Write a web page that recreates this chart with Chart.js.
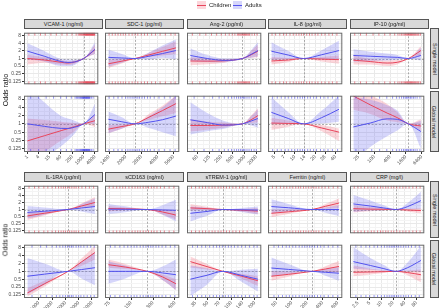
<!DOCTYPE html>
<html><head><meta charset="utf-8">
<script src="https://cdn.jsdelivr.net/npm/chart.js@4.4.1/dist/chart.umd.min.js"></script>
<style>
html,body{margin:0;padding:0;background:#fff}
body{width:440px;height:308px;overflow:hidden;position:relative;font-family:"Liberation Sans",Arial,sans-serif}
canvas{position:absolute}
.strip{position:absolute;background:#d9d9d9;border:1px solid #555;box-sizing:border-box;color:#1a1a1a;font-size:5.5px;display:flex;align-items:center;justify-content:center;white-space:nowrap;overflow:hidden}
.vstrip span{display:block;transform:rotate(90deg);white-space:nowrap}
.ytitle{position:absolute;font-size:7px;color:#111;white-space:nowrap;transform:translate(-50%,-50%) rotate(-90deg)}
.leg{position:absolute;top:1px;font-size:6px;color:#222;display:flex;align-items:center}
.sw{width:9px;height:8px;margin-right:3px;position:relative}
.sw i{position:absolute;left:0;right:0;top:3.5px;height:1px}
</style></head><body>
<script>
// ---------- axis ticks ----------
const OR_ticks = [0.125, 0.25, 0.5, 1, 2, 4, 8];
const VCAM1_ticks = [1, 4, 15, 60, 250, 1000, 4000];
const SDC1_ticks = [1400, 2000, 2800, 4000, 5600];
const ANG2_ticks = [60, 125, 250, 500, 1000, 2000];
const IL8_ticks = [5, 7, 10, 14, 20, 28, 40];
const IP10_ticks = [25, 100, 400, 1600, 6400];
const IL1RA_ticks = [1000, 2000, 4000, 8000, 16000];
const SCD163_ticks = [75, 150, 300, 600];
const STREM1_ticks = [35, 50, 70, 100, 140, 200];
const FERRITIN_ticks = [50, 100, 200, 400, 800];
const CRP_ticks = [2.5, 5, 10, 20, 40, 80];

// ---------- reference (median) values ----------
const VCAM1_ref = 1000, SDC1_ref = 2450, ANG2_ref = 880, IL8_ref = 13.5, IP10_ref = 2000;
const IL1RA_ref = 4600, SCD163_ref = 250, STREM1_ref = 78, FERRITIN_ref = 250, CRP_ref = 24;

// ---------- x sample points and [OR, lower, upper] ----------
const VCAM1_x = [1, 8, 63, 145, 333, 1000, 4000];
const VCAM1_single_children = [[1,.574,1.41],[.871,.683,1.11],[.707,.574,.871],[.66,.555,.785],[.732,.616,.841],[1,1,1],[2.22,1.52,3.48]];
const VCAM1_single_adults = [[1.96,.933,4],[1.23,.758,2],[.758,.5,.966],[.697,.5,.92],[.732,.555,.901],[1,1,1],[2.3,1.52,4.44]];
const VCAM1_global_children = [[.24,.041,1.56],[.369,.095,1.37],[.566,.25,1.2],[.669,.354,1.125],[.796,.536,1.07],[1,1,1],[1.3,.774,2.17]];
const VCAM1_global_adults = [[1,.031,22.6],[.812,.0625,6.06],[.683,.154,1.92],[.678,.25,1.56],[.758,.435,1.3],[1,1,1],[2.17,1,5.43]];

const SDC1_x = [1380, 1845, 2450, 3300, 4415, 5900];
const SDC1_single_children = [[.616,.418,.901],[.785,.637,.953],[1,1,1],[1.385,1.15,1.68],[1.92,1.32,2.83],[2.64,1.52,4.79]];
const SDC1_single_adults = [[1.11,.476,2.22],[1.05,.683,1.52],[1,1,1],[1.23,.901,1.74],[1.57,1.07,3.25],[2.06,.933,5.66]];
const SDC1_global_children = [[.641,.46,.883],[.801,.66,.966],[1,1,1],[1.74,1.37,2.3],[3.03,1.87,4.59],[5.43,2.48,10.6]];
const SDC1_global_adults = [[1.47,.46,2.83],[1.19,.66,1.74],[1,1,1],[1.15,.707,1.87],[1.41,.5,4],[1.92,.354,10.6]];

const ANG2_x = [40, 109, 296, 880, 1470, 2200];
const ANG2_single_children = [[.796,.536,1.11],[.785,.595,1],[.812,.683,.946],[1,1,1],[1.41,1.07,2],[1.95,1.15,3.48]];
const ANG2_single_adults = [[1.32,.796,2.51],[1,.732,1.37],[.841,.707,1],[1,1,1],[1.46,1.07,2.14],[2.06,1.23,4.44]];
const ANG2_global_children = [[.871,.525,1.47],[.871,.616,1.23],[.901,.732,1.11],[1,1,1],[1.41,1.07,2],[2,1.14,3.66]];
const ANG2_global_adults = [[1.4,.406,6.06],[1.11,.536,2.46],[.901,.66,1.27],[1,1,1],[1.27,.871,1.87],[1.56,.717,3.39]];

const IL8_x = [4.5, 8, 13.5, 25, 45];
const IL8_single_children = [[.796,.574,1.15],[.871,.732,1.035],[1,1,1],[.946,.758,1.15],[.901,.616,1.32]];
const IL8_single_adults = [[1.95,.901,4.44],[1.37,.933,2],[1,1,1],[1.41,.966,2.14],[2.06,.953,5.03]];
const IL8_global_children = [[1.07,.595,1.68],[1.035,.785,1.32],[1,1,1],[.707,.536,.901],[.5,.24,.678]];
const IL8_global_adults = [[2.62,1,9.19],[1.57,1,2.64],[1,1,1],[1.68,1.035,3.03],[3.39,1.197,10.6]];

const IP10_x = [16, 70, 310, 754, 2000, 6000];
const IP10_single_children = [[.858,.574,1.32],[.758,.574,.966],[.66,.5,.841],[.707,.574,.871],[1,1,1],[2.06,1.32,3.03]];
const IP10_single_adults = [[1.32,.737,2.33],[1.23,.812,1.87],[1.15,.841,1.57],[1.11,.901,1.37],[1,1,1],[1.32,.835,2.64]];
const IP10_global_children = [[10.3,3.23,45],[4.92,2.3,12.1],[2.46,1.32,5.28],[1.68,1.15,2.64],[1,1,1],[.835,.551,1.47]];
const IP10_global_adults = [[.774,.044,9.19],[1.07,.144,7.46],[1.52,.354,4.76],[1.46,.574,3.03],[1,1,1],[.525,.125,1.29]];

const IL1RA_x = [550, 1330, 4600, 9230, 18700];
const IL1RA_single_children = [[.529,.354,.747],[.688,.555,.841],[1,1,1],[1.41,1.15,1.8],[2,1.34,3.41]];
const IL1RA_single_adults = [[.747,.406,1.41],[.841,.595,1.23],[1,1,1],[1.157,.812,1.74],[1.34,.637,2.99]];
const IL1RA_global_children = [[.148,.109,.222],[.33,.259,.435],[1,1,1],[2.28,1.62,3.14],[5.28,2.83,9.51]];
const IL1RA_global_adults = [[.65,.129,3.25],[.779,.308,2],[1,1,1],[1.17,.536,2.38],[1.38,.29,5.58]];

const SCD163_x = [73, 125, 250, 404, 620];
const SCD163_single_children = [[1.11,.829,1.41],[1.07,.933,1.23],[1,1,1],[.785,.616,.966],[.574,.373,.901]];
const SCD163_single_adults = [[1.03,.637,1.74],[1.02,.758,1.37],[1,1,1],[.959,.595,1.52],[.92,.308,2.6]];
const SCD163_global_children = [[1.8,1.38,2.83],[1.46,1.23,1.93],[1,1,1],[.616,.467,.758],[.332,.193,.5]];
const SCD163_global_adults = [[1,.332,2.46],[1,.536,1.68],[1,1,1],[.871,.467,1.52],[.742,.193,2.83]];

const STREM1_x = [30, 49, 78, 134, 220];
const STREM1_single_children = [[1.17,.901,1.74],[1.09,.946,1.32],[1,1,1],[.933,.812,1.06],[.853,.637,1.17]];
const STREM1_single_adults = [[.688,.308,1.34],[.824,.536,1.19],[1,1,1],[.973,.785,1.15],[.946,.603,1.34]];
const STREM1_global_children = [[2.36,1.45,3.73],[1.52,1.19,1.93],[1,1,1],[.66,.536,.812],[.435,.275,.65]];
const STREM1_global_adults = [[.5,.113,1.66],[.707,.308,1.32],[1,1,1],[.707,.406,1.15],[.5,.17,1.27]];

const FERRITIN_x = [40, 86, 250, 457, 840];
const FERRITIN_single_children = [[.688,.467,1],[.796,.637,1],[1,1,1],[1.37,1.07,1.74],[1.89,1.17,2.99]];
const FERRITIN_single_adults = [[1.34,.688,2.75],[1.19,.812,1.74],[1,1,1],[1,.732,1.23],[1,.529,1.52]];
const FERRITIN_global_children = [[.65,.435,1],[.768,.616,.966],[1,1,1],[1.23,.966,1.57],[1.54,.895,2.48]];
const FERRITIN_global_adults = [[1.34,.65,3.43],[1.19,.785,1.93],[1,1,1],[.92,.683,1.23],[.847,.435,1.45]];

const CRP_x = [1.9, 5.2, 11.6, 24, 47, 105];
const CRP_single_children = [[1.09,.747,1.52],[1.035,.841,1.27],[1.02,.901,1.15],[1,1,1],[.953,.812,1.07],[.901,.688,1.17]];
const CRP_single_adults = [[1.74,.785,4.23],[1.41,.901,2.46],[1.165,.933,1.52],[1,1,1],[1.32,1.035,1.87],[2.41,1.09,5.82]];
const CRP_global_children = [[.92,.65,1.66],[.946,.758,1.27],[.973,.871,1.11],[1,1,1],[.901,.707,1.07],[.742,.379,1.17]];
const CRP_global_adults = [[2.36,1.27,8.34],[1.68,1.15,3.25],[1.27,1.035,1.74],[1,1,1],[1.37,1,2.14],[2.62,.973,9.51]];

// ---------- observations (rug) ----------
const VCAM1_obs_children = [1.2,2.5,5,9,18,35,70,130,240,400,520,600,680,760,840,920,1000,1080,1150,1230,1300,1380,1450,1530,1600,1700,1800,1900,2000,2120,2250,2380,2500,2650,2800,2950,3100,3300,3500,3700,3900];
const VCAM1_obs_adults = [1.5,4,10,25,60,120,220,350,420,480,550,620,690,750,820,880,950,1010,1050,1120,1200,1280,1350,1420,1500,1600,1700,1800,1900,2050,2200,2600,3200];
const SDC1_obs_children = [1400,1500,1600,1700,1800,1900,2000,2150,2300,2450,2600,2800,3000,3200,3500,3800,4200,4700,5300,5800];
const SDC1_obs_adults = [1400,1550,1700,1850,2000,2100,2200,2300,2400,2500,2600,2700,2850,3000,3200,3400,3700,4100,4600,5200,5800];
const ANG2_obs_children = [45,70,100,140,190,250,320,400,480,560,650,700,750,800,850,900,950,1000,1050,1120,1200,1280,1350,1550,1800,2100];
const ANG2_obs_adults = [50,90,150,220,300,380,460,540,620,700,780,860,940,1020,1150,1300,1500,1750,2000];
const IL8_obs_children = [4.6,5.2,6,6.8,7.5,8.5,9.5,10.5,11.5,12.5,13.5,15,16.5,18,20,22,25,28,32,36,42];
const IL8_obs_adults = [4.7,5.5,6.3,7.2,8,9,10,11,12,13,14,15.5,17,19,21,24,27,31,36,43];
const IP10_obs_children = [18,30,50,90,150,250,400,600,800,950,1100,1250,1400,1550,1700,1850,2000,2150,2300,2450,2600,2800,3000,3250,3500,3800,4200,4600,5000,5800];
const IP10_obs_adults = [20,40,80,160,300,500,700,900,1100,1300,1500,1700,1900,2100,2400,2700,3100,3600,4300,5500];
const IL1RA_obs_children = [600,800,1000,1300,1600,2000,2400,2800,3200,3600,4000,4500,5000,5600,6300,7000,8000,9500,11500,14000,17500];
const IL1RA_obs_adults = [700,1100,1500,2000,2500,3000,3500,4000,4500,5000,5500,6000,7000,8000,9000,10500,12500,15000,18000];
const SCD163_obs_children = [75,85,95,105,115,125,140,155,170,185,200,220,240,260,285,310,340,380,430,500,580];
const SCD163_obs_adults = [78,90,105,120,135,150,165,180,200,220,240,260,280,300,330,360,400,450,520,600];
const STREM1_obs_children = [31,35,39,43,47,52,57,62,68,74,80,87,95,105,115,128,142,160,185,210];
const STREM1_obs_adults = [32,37,42,47,53,59,65,71,77,84,92,100,110,122,136,152,172,195,215];
const FERRITIN_obs_children = [42,50,60,70,80,92,105,120,135,150,170,190,215,240,270,300,340,390,450,530,650,800];
const FERRITIN_obs_adults = [45,55,66,78,90,105,120,140,160,180,200,225,250,280,320,370,430,520,640,800];
const CRP_obs_children = [2,2.5,3,3.7,4.5,5.5,6.5,8,9.5,11,13,15,18,21,25,30,36,43,52,65,80,100];
const CRP_obs_adults = [2.2,3,4,5,6.5,8,10,12,14,16,18,20,22,25,28,32,37,43,50,60,75,95];

const ROW_LABELS = ['Single model', 'Global model'];
const SERIES_LABELS = ['Children', 'Adults'];
const Y_TITLE = 'Odds ratio';

function P(title, x, ticks, ref, sc, sa, gc, ga, oc, oa){ return {title, x, ticks, ref, rows:[[sc,sa],[gc,ga]], obs:[oc,oa]}; }
const G1 = [
  P('VCAM-1 (ng/ml)', VCAM1_x, VCAM1_ticks, VCAM1_ref, VCAM1_single_children, VCAM1_single_adults, VCAM1_global_children, VCAM1_global_adults, VCAM1_obs_children, VCAM1_obs_adults),
  P('SDC-1 (pg/ml)', SDC1_x, SDC1_ticks, SDC1_ref, SDC1_single_children, SDC1_single_adults, SDC1_global_children, SDC1_global_adults, SDC1_obs_children, SDC1_obs_adults),
  P('Ang-2 (pg/ml)', ANG2_x, ANG2_ticks, ANG2_ref, ANG2_single_children, ANG2_single_adults, ANG2_global_children, ANG2_global_adults, ANG2_obs_children, ANG2_obs_adults),
  P('IL-8 (pg/ml)', IL8_x, IL8_ticks, IL8_ref, IL8_single_children, IL8_single_adults, IL8_global_children, IL8_global_adults, IL8_obs_children, IL8_obs_adults),
  P('IP-10 (pg/ml)', IP10_x, IP10_ticks, IP10_ref, IP10_single_children, IP10_single_adults, IP10_global_children, IP10_global_adults, IP10_obs_children, IP10_obs_adults)
];
const G2 = [
  P('IL-1RA (pg/ml)', IL1RA_x, IL1RA_ticks, IL1RA_ref, IL1RA_single_children, IL1RA_single_adults, IL1RA_global_children, IL1RA_global_adults, IL1RA_obs_children, IL1RA_obs_adults),
  P('sCD163 (ng/ml)', SCD163_x, SCD163_ticks, SCD163_ref, SCD163_single_children, SCD163_single_adults, SCD163_global_children, SCD163_global_adults, SCD163_obs_children, SCD163_obs_adults),
  P('sTREM-1 (pg/ml)', STREM1_x, STREM1_ticks, STREM1_ref, STREM1_single_children, STREM1_single_adults, STREM1_global_children, STREM1_global_adults, STREM1_obs_children, STREM1_obs_adults),
  P('Ferritin (ng/ml)', FERRITIN_x, FERRITIN_ticks, FERRITIN_ref, FERRITIN_single_children, FERRITIN_single_adults, FERRITIN_global_children, FERRITIN_global_adults, FERRITIN_obs_children, FERRITIN_obs_adults),
  P('CRP (mg/l)', CRP_x, CRP_ticks, CRP_ref, CRP_single_children, CRP_single_adults, CRP_global_children, CRP_global_adults, CRP_obs_children, CRP_obs_adults)
];

// ---------- styling / layout ----------
const RED = '#e8455c', BLUE = '#5252ee';
const RED_FILL = 'rgba(240,70,90,0.22)', BLUE_FILL = 'rgba(85,85,238,0.24)';
const RED_RUG = 'rgba(232,40,60,0.8)', BLUE_RUG = 'rgba(60,60,235,0.8)';
const Y_LIM = 3.4, Y_MIN = Math.pow(2,-Y_LIM), Y_MAX = Math.pow(2,Y_LIM);
const RUG_TOP = Math.pow(2, Y_LIM-0.17), RUG_BOT = Math.pow(2, -Y_LIM+0.17);
const COL_LEFT = [24,105,187,268,350], PANEL_W = 79;
const LAYOUT = [
  {panels:G1, stripTop:19, rows:[{top:28,h:61},{top:91,h:61}]},
  {panels:G2, stripTop:172, rows:[{top:181,h:57},{top:240,h:58}]}
];
const PAD_B = 16;
Chart.defaults.font.family = '"Liberation Sans", Arial, sans-serif';

function minorTicks(t, lo, hi){
  const m = [];
  for (let i=0;i<t.length-1;i++) m.push(Math.sqrt(t[i]*t[i+1]));
  const b = t[0]/Math.sqrt(t[1]/t[0]); if (b>lo) m.push(b);
  const n = t.length; const a = t[n-1]*Math.sqrt(t[n-1]/t[n-2]); if (a<hi) m.push(a);
  return m;
}
function tickObjs(major, lo, hi){
  const arr = major.map(v=>({value:v})).concat(minorTicks(major,lo,hi).map(v=>({value:v, minor:true})));
  return arr.sort((p,q)=>p.value-q.value);
}
const gridColor = c => (c.tick && c.tick.minor) ? '#f4f4f4' : '#e9e9e9';
const tickColor = c => (c.tick && c.tick.minor) ? 'rgba(0,0,0,0)' : '#333';

const deco = {
  id:'deco',
  beforeDatasetsDraw(chart){
    const {ctx, chartArea:a, scales:{x,y}} = chart;
    const ref = chart.options.plugins.deco.ref;
    ctx.save();
    ctx.beginPath(); ctx.rect(a.left,a.top,a.right-a.left,a.bottom-a.top); ctx.clip();
    ctx.strokeStyle = '#8a8a8a'; ctx.lineWidth = 0.7; ctx.setLineDash([2,1.6]);
    const yp = Math.round(y.getPixelForValue(1))+0.5;
    ctx.beginPath(); ctx.moveTo(a.left,yp); ctx.lineTo(a.right,yp); ctx.stroke();
    const xp = Math.round(x.getPixelForValue(ref))+0.5;
    ctx.beginPath(); ctx.moveTo(xp,a.top); ctx.lineTo(xp,a.bottom); ctx.stroke();
    ctx.restore();
  },
  afterDraw(chart){
    const {ctx, chartArea:a} = chart;
    ctx.save(); ctx.strokeStyle = '#6a6a6a'; ctx.lineWidth = 1;
    ctx.strokeRect(a.left+0.5, a.top+0.5, a.right-a.left-1, a.bottom-a.top-1);
    ctx.restore();
  }
};

function pts(xs, tri, k){ return xs.map((x,i)=>({x, y: tri[i][k]})); }
function datasets(p, r){
  const [ch, ad] = p.rows[r];
  const none = 'rgba(0,0,0,0)';
  const common = {pointRadius:0, tension:0.4, cubicInterpolationMode:'monotone'};
  const ds = [
    {...common, data:pts(p.x,ch,1), borderColor:none, borderWidth:0, fill:false, order:6},
    {...common, data:pts(p.x,ch,2), borderColor:none, borderWidth:0, fill:'-1', backgroundColor:RED_FILL, order:5},
    {...common, data:pts(p.x,ad,1), borderColor:none, borderWidth:0, fill:false, order:4},
    {...common, data:pts(p.x,ad,2), borderColor:none, borderWidth:0, fill:'-1', backgroundColor:BLUE_FILL, order:3},
    {...common, data:pts(p.x,ch,0), borderColor:RED, borderWidth:1, fill:false, order:2},
    {...common, data:pts(p.x,ad,0), borderColor:BLUE, borderWidth:1, fill:false, order:1}
  ];
  const obs = p.obs[r], col = r===0 ? RED_RUG : BLUE_RUG;
  [RUG_TOP, RUG_BOT].forEach(yv => ds.push({
    data: obs.map(x=>({x, y:yv})), showLine:false, pointStyle:'line', pointRotation:90,
    pointRadius:1.6, pointBorderWidth:0.7, pointBorderColor:col, pointBackgroundColor:col, order:0
  }));
  return ds;
}

function addDiv(cls, style, html){
  const d = document.createElement('div'); d.className = cls;
  Object.assign(d.style, style); d.innerHTML = html; document.body.appendChild(d); return d;
}

LAYOUT.forEach(g => {
  g.panels.forEach((p, c) => {
    addDiv('strip', {left:COL_LEFT[c]+'px', top:g.stripTop+'px', width:PANEL_W+'px', height:(g.rows[0].top-g.stripTop+1)+'px'}, p.title);
    const xlo = p.x[0], xhi = p.x[p.x.length-1], r = xhi/xlo;
    const xmin = xlo/Math.pow(r,0.05), xmax = xhi*Math.pow(r,0.05);
    const xT = tickObjs(p.ticks, xmin, xmax);
    g.rows.forEach((row, ri) => {
      const bottom = ri === g.rows.length-1;
      const padL = c===0 ? 24 : 20;
      const cv = document.createElement('canvas');
      cv.width = padL + PANEL_W; cv.height = row.h + (bottom ? PAD_B : 0);
      cv.style.left = (COL_LEFT[c]-padL)+'px'; cv.style.top = row.top+'px';
      document.body.appendChild(cv);
      new Chart(cv, {
        type:'line',
        data:{datasets: datasets(p, ri)},
        options:{
          responsive:false, animation:false, devicePixelRatio:1,
          layout:{padding:0},
          plugins:{legend:{display:false}, tooltip:{enabled:false}, deco:{ref:p.ref}},
          scales:{
            x:{type:'logarithmic', min:xmin, max:xmax,
              afterBuildTicks: ax => { ax.ticks = xT.map(t=>({...t})); },
              afterFit: ax => { ax.height = bottom ? PAD_B : 0; ax.paddingLeft = 0; ax.paddingRight = 0; },
              ticks:{display:bottom, autoSkip:false, minRotation:45, maxRotation:45, padding:0, color:'#4d4d4d', font:{size:5},
                callback:(v,i,t)=> t[i].minor ? '' : String(t[i].value)},
              grid:{color:gridColor, lineWidth:1, drawTicks:bottom, tickLength:2, tickColor:tickColor},
              border:{display:false}
            },
            y:{type:'logarithmic', min:Y_MIN, max:Y_MAX,
              afterBuildTicks: ax => { ax.ticks = tickObjs(OR_ticks, Y_MIN, Y_MAX); },
              afterFit: ax => { ax.width = padL; ax.paddingTop = 0; ax.paddingBottom = 0; },
              ticks:{display:c===0, autoSkip:false, padding:1, color:'#4d4d4d', font:{size:5},
                callback:(v,i,t)=> t[i].minor ? '' : String(t[i].value)},
              grid:{color:gridColor, lineWidth:1, drawTicks:c===0, tickLength:2, tickColor:tickColor},
              border:{display:false}
            }
          }
        },
        plugins:[deco]
      });
      if (c === 0) {
        addDiv('strip vstrip', {left:'430px', top:row.top+'px', width:'9px', height:row.h+'px'}, '<span>'+ROW_LABELS[ri]+'</span>');
      }
    });
  });
  const mid = (g.rows[0].top + g.rows[g.rows.length-1].top + g.rows[g.rows.length-1].h)/2;
  addDiv('ytitle', {left:'5px', top:mid+'px'}, Y_TITLE);
});

// legend
addDiv('leg', {left:'197px'}, '<div class="sw" style="background:'+RED_FILL+'"><i style="background:'+RED+'"></i></div>'+SERIES_LABELS[0]);
addDiv('leg', {left:'233px'}, '<div class="sw" style="background:'+BLUE_FILL+'"><i style="background:'+BLUE+'"></i></div>'+SERIES_LABELS[1]);
</script>
</body></html>
